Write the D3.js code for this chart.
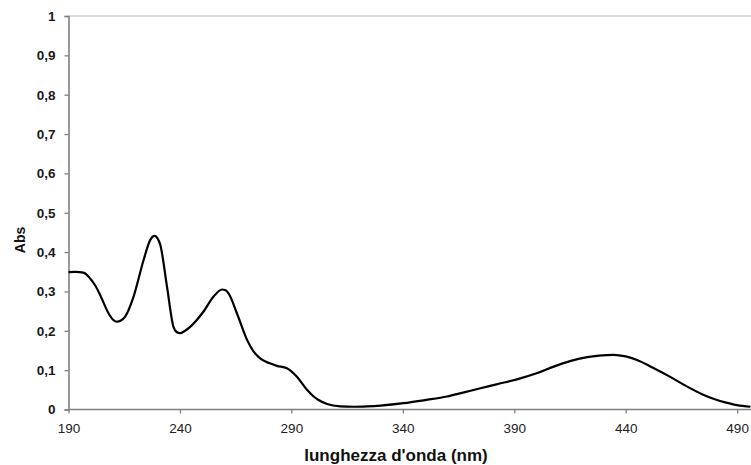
<!DOCTYPE html>
<html>
<head>
<meta charset="utf-8">
<script src="https://cdn.jsdelivr.net/npm/d3@7"></script>
<style>
  html, body { margin: 0; padding: 0; background: #fff; }
  svg { display: block; }
</style>
</head>
<body>
<svg id="chart" width="751" height="465"></svg>
<script>
// Absorbance spectrum: wavelength (nm) and absorbance
const wavelength = [190, 193, 196.7, 199.7, 202, 204.2, 208, 210, 211.7, 213.5, 215.4, 219.2, 223.7, 226.7, 228.6, 229.8, 231.2, 234.2, 237.1, 238.5, 240.1, 242, 244.6, 250.6, 255.1, 258.9, 260.5, 261.8, 265.6, 270.1, 273, 276, 280, 283.5, 288, 290, 292.5, 297, 300, 302.2, 306, 312, 318, 324, 330, 340.4, 350, 359.8, 367, 374.8, 382, 392.7, 400, 407.7, 415, 422.7, 428, 434.6, 440, 445.1, 452, 460, 467, 475, 480, 485.5, 490, 496];
const absorbance = [0.349, 0.350, 0.348, 0.333, 0.315, 0.291, 0.244, 0.228, 0.223, 0.226, 0.236, 0.287, 0.380, 0.431, 0.441, 0.436, 0.418, 0.312, 0.210, 0.197, 0.194, 0.199, 0.210, 0.249, 0.287, 0.305, 0.303, 0.295, 0.244, 0.177, 0.148, 0.130, 0.118, 0.111, 0.105, 0.097, 0.083, 0.050, 0.033, 0.024, 0.014, 0.008, 0.007, 0.008, 0.010, 0.016, 0.024, 0.033, 0.043, 0.054, 0.064, 0.079, 0.092, 0.109, 0.123, 0.133, 0.137, 0.139, 0.135, 0.126, 0.107, 0.083, 0.060, 0.037, 0.026, 0.017, 0.011, 0.007];

// Axis ticks and their labels
const xTicks = [190, 240, 290, 340, 390, 440, 490];
const yTicks = [0, 0.1, 0.2, 0.3, 0.4, 0.5, 0.6, 0.7, 0.8, 0.9, 1];
const yTickLabels = ["0", "0,1", "0,2", "0,3", "0,4", "0,5", "0,6", "0,7", "0,8", "0,9", "1"];
const xTitle = "lunghezza d'onda (nm)";
const yTitle = "Abs";

const svg = d3.select("#chart");
const plotLeft = 68.5, plotRight = 750.5, plotTop = 16, plotBottom = 409.5;

const x = d3.scaleLinear().domain([190, 496]).range([plotLeft, plotRight]);
const y = d3.scaleLinear().domain([0, 1]).range([plotBottom, plotTop]);

const font = "'Liberation Sans', Arial, sans-serif";

// top gridline
svg.append("line")
  .attr("x1", plotLeft).attr("x2", 751)
  .attr("y1", y(1)).attr("y2", y(1))
  .attr("stroke", "#cfcfcf").attr("stroke-width", 1.5);

// y axis
const yAxis = svg.append("g")
  .attr("transform", `translate(${plotLeft},0)`)
  .call(d3.axisLeft(y).tickValues(yTicks).tickSize(4).tickPadding(9)
    .tickFormat((d, i) => yTickLabels[i]));
yAxis.select(".domain").attr("stroke", "#808080").attr("stroke-width", 1.6);
yAxis.selectAll(".tick line").attr("stroke", "#808080").attr("stroke-width", 1.3);
yAxis.selectAll(".tick text")
  .attr("font-family", font).attr("font-size", 13.5).attr("font-weight", "bold")
  .attr("fill", "#1a1a1a");

// x axis
const xAxis = svg.append("g")
  .attr("transform", `translate(0,${plotBottom})`)
  .call(d3.axisBottom(x).tickValues(xTicks).tickSize(4).tickPadding(10)
    .tickFormat(d3.format("d")));
xAxis.select(".domain").attr("stroke", "#808080").attr("stroke-width", 1.6)
  .attr("d", `M${plotLeft},0H751`);
xAxis.selectAll(".tick line").attr("stroke", "#808080").attr("stroke-width", 1.3);
xAxis.selectAll(".tick text")
  .attr("font-family", font).attr("font-size", 13.5)
  .attr("fill", "#222");

// spectrum line
const line = d3.line()
  .x(d => x(d[0]))
  .y(d => y(d[1]))
  .curve(d3.curveMonotoneX);

svg.append("path")
  .datum(wavelength.map((w, i) => [w, absorbance[i]]))
  .attr("fill", "none")
  .attr("stroke", "#000")
  .attr("stroke-width", 2.2)
  .attr("stroke-linejoin", "round")
  .attr("d", line);

// axis titles
svg.append("text")
  .attr("x", 396).attr("y", 461)
  .attr("text-anchor", "middle")
  .attr("font-family", font).attr("font-size", 17).attr("font-weight", "bold")
  .attr("fill", "#111")
  .text(xTitle);

svg.append("text")
  .attr("transform", "translate(20,240) rotate(-90)")
  .attr("text-anchor", "middle")
  .attr("dominant-baseline", "central")
  .attr("font-family", font).attr("font-size", 14).attr("font-weight", "bold")
  .attr("fill", "#111")
  .text(yTitle);
</script>
</body>
</html>
